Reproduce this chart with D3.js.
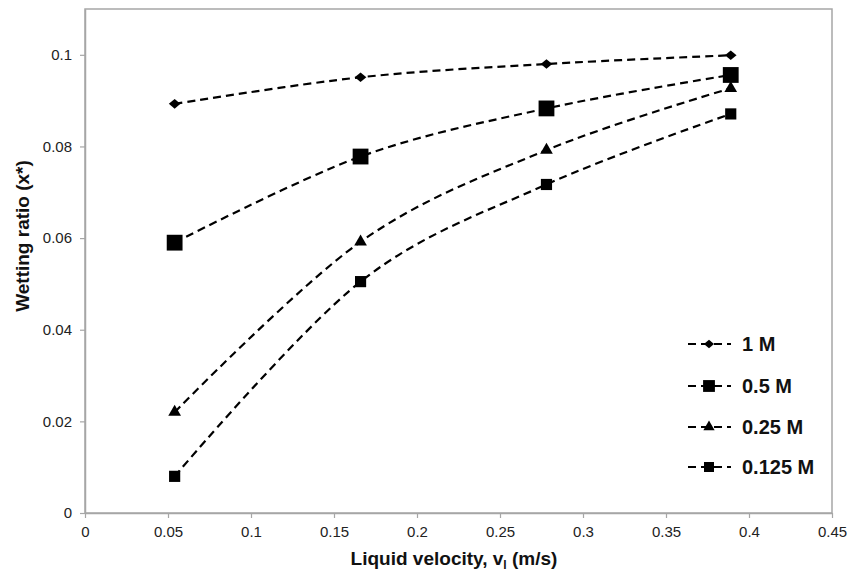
<html>
<head>
  <meta charset="utf8">
  <title>Wetting ratio</title>
  <style>
  * { margin: 0; padding: 0; }
  body { background: #fff; }
  text { font-family: "Liberation Sans", Arial, sans-serif; }
  </style>
</head>
<body>
  <script src="https://cdn.jsdelivr.net/npm/d3@7"></script>
  <script>
  var w = 852;
  var h = 571;
  var margin = { top: 9, right: 20, bottom: 58, left: 85 };

  // data
  var velocity = [0.054, 0.166, 0.278, 0.389];
  var seriesNames = ["1 M", "0.5 M", "0.25 M", "0.125 M"];
  var wet1M = [0.0893, 0.0951, 0.0980, 0.0999];
  var wet05M = [0.0590, 0.0778, 0.0883, 0.0956];
  var wet025M = [0.0220, 0.0592, 0.0792, 0.0927];
  var wet0125M = [0.0080, 0.0505, 0.0717, 0.0871];
  var xTicks = [0, 0.05, 0.1, 0.15, 0.2, 0.25, 0.3, 0.35, 0.4, 0.45];
  var yTicks = [0, 0.02, 0.04, 0.06, 0.08, 0.1];

  var allSeries = [wet1M, wet05M, wet025M, wet0125M];

  // wide diamond like the spreadsheet marker
  var wideDiamond = {
    draw: function(context, size) {
      var a = Math.sqrt(size) * 0.75, b = Math.sqrt(size) * 0.62;
      context.moveTo(-a, 0);
      context.lineTo(0, -b);
      context.lineTo(a, 0);
      context.lineTo(0, b);
      context.closePath();
    }
  };
  var markers = [
    { type: wideDiamond, size: 60, legend: 45 },
    { type: d3.symbolSquare, size: 250, legend: 140 },
    { type: d3.symbolTriangle, size: 70, legend: 55 },
    { type: d3.symbolSquare, size: 125, legend: 100 }
  ];

  var xScale = d3.scaleLinear()
    .domain([0, 0.45])
    .range([margin.left, w - margin.right]);
  var yScale = d3.scaleLinear()
    .domain([0, 0.11])
    .range([h - margin.bottom, margin.top]);

  var svg = d3.select("body")
    .append("svg")
    .attr("width", w)
    .attr("height", h);

  // plot frame
  svg.append("rect")
    .attr("x", margin.left)
    .attr("y", margin.top)
    .attr("width", w - margin.right - margin.left)
    .attr("height", h - margin.bottom - margin.top)
    .attr("fill", "none")
    .attr("stroke", "#a6a6a6")
    .attr("stroke-width", 1.5);

  //Create axes
  var fmt = function(d) { return String(+d.toFixed(2)); };
  var xAxis = svg.append("g")
    .attr("transform", "translate(0," + (h - margin.bottom) + ")")
    .call(d3.axisBottom(xScale).tickValues(xTicks).tickSize(5).tickSizeOuter(0).tickFormat(fmt));
  var yAxis = svg.append("g")
    .attr("transform", "translate(" + margin.left + ",0)")
    .call(d3.axisLeft(yScale).tickValues(yTicks).tickSize(5).tickSizeOuter(0).tickFormat(fmt));

  [xAxis, yAxis].forEach(function(g) {
    g.select(".domain").attr("stroke", "#a6a6a6").attr("stroke-width", 1.5);
    g.selectAll(".tick line").attr("stroke", "#a6a6a6").attr("stroke-width", 1.2);
    g.selectAll(".tick text")
      .attr("fill", "#222")
      .attr("font-size", "15px")
      .attr("font-family", "Liberation Sans, Arial, sans-serif");
  });
  xAxis.selectAll(".tick text").attr("y", 24).attr("dy", 0);
  yAxis.selectAll(".tick text").attr("x", -13);

  //Create lines
  var line = d3.line()
    .x(function(d, i) { return xScale(velocity[i]); })
    .y(function(d) { return yScale(d); })
    .curve(d3.curveCatmullRom.alpha(0));

  allSeries.forEach(function(vals, k) {
    svg.append("path")
      .attr("d", line(vals))
      .attr("fill", "none")
      .attr("stroke", "#000")
      .attr("stroke-width", 2.2)
      .attr("stroke-dasharray", "8,5");

    svg.selectAll(".m" + k)
      .data(vals)
      .enter()
      .append("path")
      .attr("class", "m" + k)
      .attr("d", d3.symbol().type(markers[k].type).size(markers[k].size))
      .attr("transform", function(d, i) {
        return "translate(" + xScale(velocity[i]) + "," + yScale(d) + ")";
      })
      .attr("fill", "#000");
  });

  //Legend
  var legendY = [344, 386, 427, 467];
  var legend = svg.append("g");
  seriesNames.forEach(function(name, k) {
    var y = legendY[k];
    legend.append("line")
      .attr("x1", 688).attr("x2", 731)
      .attr("y1", y).attr("y2", y)
      .attr("stroke", "#000")
      .attr("stroke-width", 2.2)
      .attr("stroke-dasharray", "8,5");
    legend.append("path")
      .attr("d", d3.symbol().type(markers[k].type).size(markers[k].legend))
      .attr("transform", "translate(709," + y + ")")
      .attr("fill", "#000");
    legend.append("text")
      .attr("x", 742)
      .attr("y", y + 7)
      .attr("font-size", "20px")
      .attr("font-weight", "bold")
      .attr("fill", "#111")
      .text(name);
  });

  //Axis titles
  var xt = svg.append("text")
    .attr("x", 454)
    .attr("y", 565)
    .attr("text-anchor", "middle")
    .attr("font-size", "19px")
    .attr("font-weight", "bold")
    .attr("fill", "#111");
  xt.append("tspan").text("Liquid velocity, v");
  xt.append("tspan").attr("dy", 4).attr("font-size", "12px").text("l");
  xt.append("tspan").attr("dy", -4).text(" (m/s)");

  svg.append("text")
    .attr("transform", "translate(29,236) rotate(-90)")
    .attr("text-anchor", "middle")
    .attr("font-size", "19px")
    .attr("font-weight", "bold")
    .attr("fill", "#111")
    .text("Wetting ratio (x*)");
  </script>
</body>
</html>
